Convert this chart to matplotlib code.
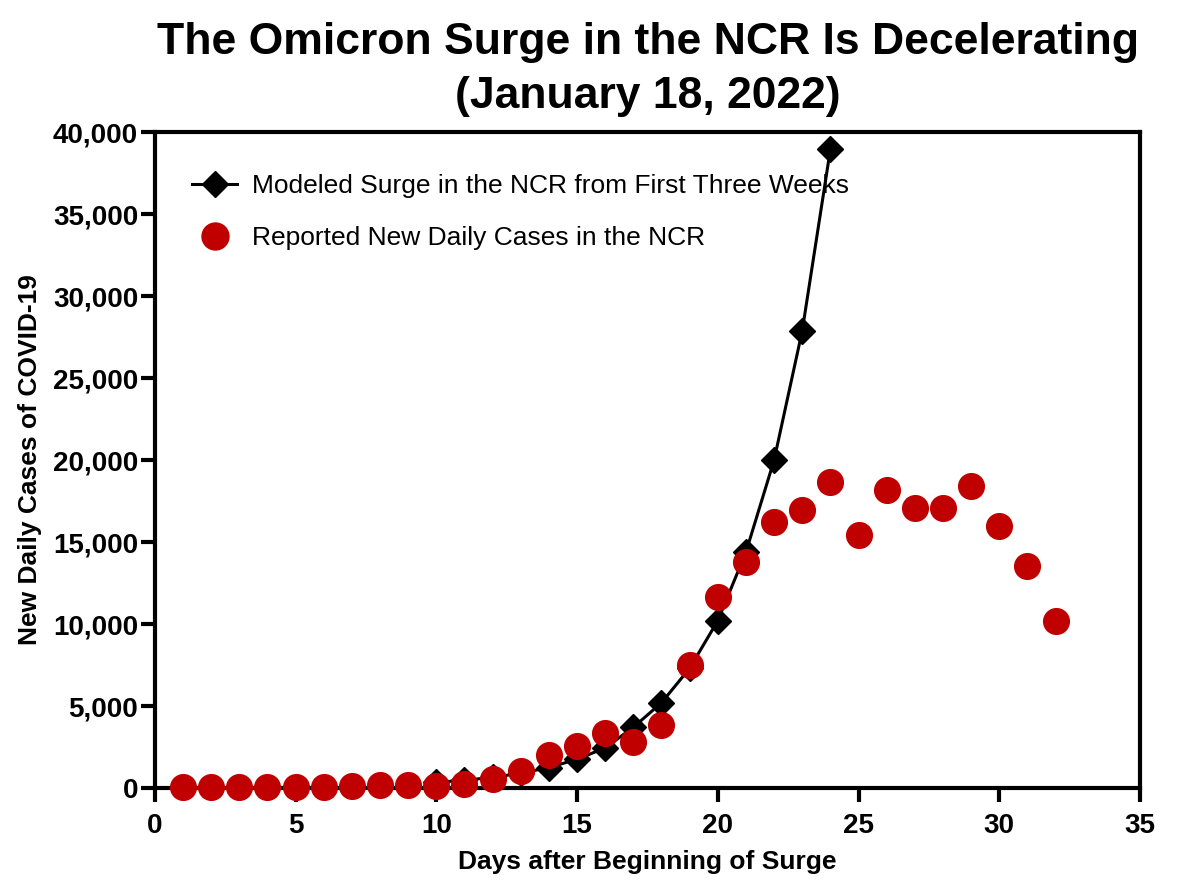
import numpy as np
import matplotlib.pyplot as plt

plt.rcParams['font.family'] = ['Liberation Sans', 'DejaVu Sans']

# reported new daily cases (days 1-32)
days_reported = list(range(1, 33))
reported = [40, 50, 50, 45, 60, 80, 100, 160, 180, 100, 250,
            550, 1050, 2030, 2540, 3360, 2830, 3840, 7500, 11630, 13760,
            16240, 16960, 18650, 15450, 18150, 17100, 17100, 18440, 15970,
            13560, 10190]

# modeled surge from the first three weeks (days 10-24)
days_model = list(range(10, 25))
modeled = [350, 470, 650, 900, 1250, 1750, 2450, 3700, 5200, 7300,
           10200, 14380, 19990, 27880, 38940]

x_ticks = [0, 5, 10, 15, 20, 25, 30, 35]
y_ticks = [0, 5000, 10000, 15000, 20000, 25000, 30000, 35000, 40000]

fig = plt.figure(figsize=(12, 8.9), dpi=100)
ax = fig.add_axes([0.129, 0.1146, 0.821, 0.737])

ax.plot(days_model, modeled, color='black', lw=2.2, marker='D', markersize=13,
        label='Modeled Surge in the NCR from First Three Weeks', zorder=3, clip_on=False)
ax.plot(days_reported, reported, linestyle='none', marker='o', markersize=18.5,
        color='#C00000', label='Reported New Daily Cases in the NCR', zorder=4, clip_on=False)

ax.set_xlim(0, 35)
ax.set_ylim(0, 40000)
ax.set_xticks(x_ticks)
ax.set_yticks(y_ticks)
ax.set_yticklabels(['{:,}'.format(v) for v in y_ticks])

for s in ax.spines.values():
    s.set_linewidth(3)
ax.tick_params(width=3, length=10, labelsize=20)
ax.tick_params(axis='x', pad=8)
ax.tick_params(axis='y', pad=2)
for lab in ax.get_xticklabels() + ax.get_yticklabels():
    lab.set_fontweight('bold')

ax.set_xlabel('Days after Beginning of Surge', fontsize=19, fontweight='bold', labelpad=8)
ax.set_ylabel('New Daily Cases of COVID-19', fontsize=19, fontweight='bold', labelpad=8)

fig.text(0.5396, 0.922, 'The Omicron Surge in the NCR Is Decelerating\n(January 18, 2022)',
         ha='center', va='center', fontsize=32, fontweight='bold', linespacing=1.42)

leg = ax.legend(loc='upper left', bbox_to_anchor=(0.014, 0.972), frameon=False,
                fontsize=19, handlelength=1.7, handletextpad=0.55, labelspacing=1.05,
                markerscale=1.05)

fig.savefig('out.png', dpi=100)
